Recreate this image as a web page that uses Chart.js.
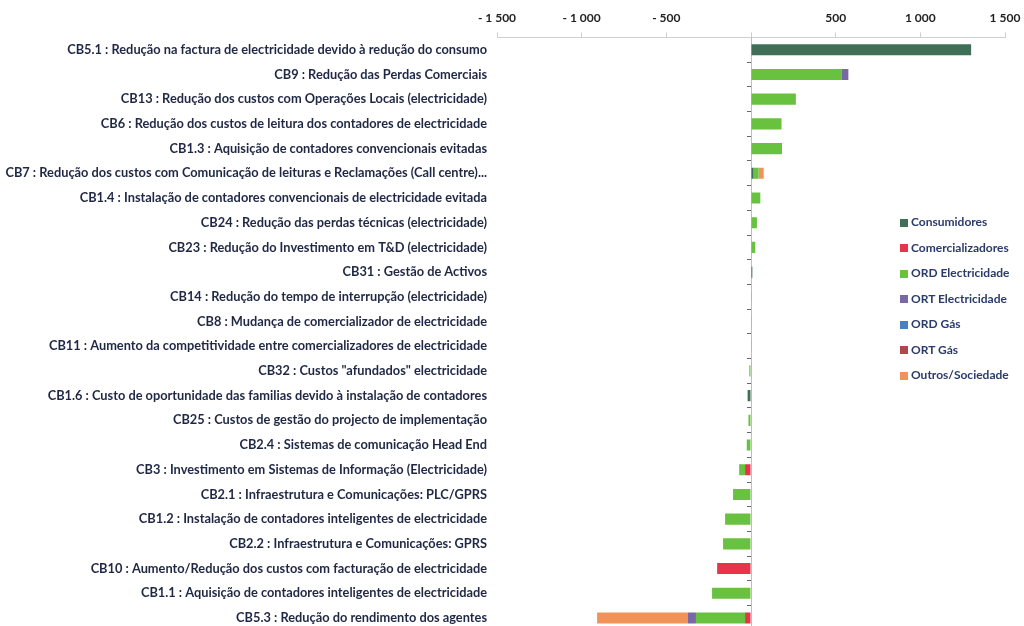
<!DOCTYPE html>
<html>
<head>
<meta charset="utf-8">
<script src="https://cdn.jsdelivr.net/npm/chart.js@4"></script>
<style>
  html, body { margin: 0; padding: 0; background: #fff; overflow: hidden; }
  #wrap { position: relative; width: 1024px; height: 626px; overflow: hidden; }
  #legend { position: absolute; left: 900px; top: 209px; font: 700 12px Lato, sans-serif; color: #2a3a6a; }
  #legend div { height: 25.5px; line-height: 25.5px; white-space: nowrap; }
  #legend span { display: inline-block; width: 8px; height: 8px; margin-right: 3px; vertical-align: -0.5px; }
</style>
</head>
<body>
<div id="wrap">
  <canvas id="chart" width="1024" height="648"></canvas>
  <div id="legend"></div>
</div>
<script>
// categories, top to bottom
const categories = [
  "CB5.1 : Redução na factura de electricidade devido à redução do consumo",
  "CB9 : Redução das Perdas Comerciais",
  "CB13 : Redução dos custos com Operações Locais (electricidade)",
  "CB6 : Redução dos custos de leitura dos contadores de electricidade",
  "CB1.3 : Aquisição de contadores convencionais evitadas",
  "CB7 : Redução dos custos com Comunicação de leituras e Reclamações (Call centre)...",
  "CB1.4 : Instalação de contadores convencionais de electricidade evitada",
  "CB24 : Redução das perdas técnicas (electricidade)",
  "CB23 : Redução do Investimento em T&D (electricidade)",
  "CB31 : Gestão de Activos",
  "CB14 : Redução do tempo de interrupção (electricidade)",
  "CB8 : Mudança de comercializador de electricidade",
  "CB11 : Aumento da competitividade entre comercializadores de electricidade",
  "CB32 : Custos \"afundados\" electricidade",
  "CB1.6 : Custo de oportunidade das familias devido à instalação de contadores",
  "CB25 : Custos de gestão do projecto de implementação",
  "CB2.4 : Sistemas de comunicação Head End",
  "CB3 : Investimento em Sistemas de Informação (Electricidade)",
  "CB2.1 : Infraestrutura e Comunicações: PLC/GPRS",
  "CB1.2 : Instalação de contadores inteligentes de electricidade",
  "CB2.2 : Infraestrutura e Comunicações: GPRS",
  "CB10 : Aumento/Redução dos custos com facturação de electricidade",
  "CB1.1 : Aquisição de contadores inteligentes de electricidade",
  "CB5.3 : Redução do rendimento dos agentes"
];

const seriesNames = ["Consumidores", "Comercializadores", "ORD Electricidade", "ORT Electricidade", "ORD Gás", "ORT Gás", "Outros/Sociedade"];
const seriesColors = ["#3f6f57", "#e8344b", "#69c140", "#7a68a6", "#4a7fc0", "#b4434f", "#f0935a"];

const consumidores     = [1300, 0, 0, 0, 0, 15, 0, 0, 0, 8, 0, 0, 0, 0, -20, 0, 0, 0, 0, 0, 0, 0, 0, 0];
const comercializadores = [0, 0, 0, 0, 0, 0, 0, 0, 0, 0, 0, 0, 0, 0, 0, 0, 0, -35, 0, 0, 0, -200, 0, -35];
const ordElectricidade = [0, 537, 265, 180, 183, 30, 55, 35, 25, 0, 4, 2, 2, -10, 0, -15, -25, -35, -106, -153, -165, 0, -230, -290];
const ortElectricidade = [0, 38, 0, 0, 0, 0, 0, 0, 0, 0, 0, 0, 0, 0, 0, 0, 0, 0, 0, 0, 0, 0, 0, -47];
const ordGas           = [0, 0, 0, 0, 0, 0, 0, 0, 0, 0, 0, 0, 0, 0, 0, 0, 0, 0, 0, 0, 0, 0, 0, 0];
const ortGas           = [0, 0, 0, 0, 0, 0, 0, 0, 0, 0, 0, 0, 0, 0, 0, 0, 0, 0, 0, 0, 0, 0, 0, 0];
const outrosSociedade  = [0, 0, 0, 0, 0, 30, 0, 0, 0, 0, 0, 0, 0, 0, 0, 0, 0, 0, 0, 0, 0, 0, 0, -537];

const xTicks = [-1500, -1000, -500, 0, 500, 1000, 1500];

const seriesValues = [consumidores, comercializadores, ordElectricidade, ortElectricidade, ordGas, ortGas, outrosSociedade];

function fmt(v) {
  if (v === 0) return "";
  const s = Math.abs(v).toString().replace(/\B(?=(\d{3})+(?!\d))/g, " ");
  return v < 0 ? "- " + s : s;
}

const labelFont = { family: "Lato", size: 12.8, weight: "700" };

new Chart(document.getElementById("chart"), {
  type: "bar",
  data: {
    labels: categories,
    datasets: seriesNames.map((name, i) => ({
      label: name,
      data: seriesValues[i],
      backgroundColor: seriesColors[i],
      borderWidth: 0,
      barPercentage: 0.45,
      categoryPercentage: 1
    }))
  },
  options: {
    indexAxis: "y",
    responsive: false,
    animation: false,
    layout: { padding: { top: 4, right: 19, bottom: 0, left: 0 } },
    plugins: { legend: { display: false }, tooltip: { enabled: false } },
    scales: {
      x: {
        position: "top",
        stacked: true,
        min: -1500,
        max: 1500,
        afterBuildTicks: (axis) => { axis.ticks = xTicks.map(v => ({ value: v })); },
        afterFit: (axis) => { axis.paddingRight = 0; axis.paddingLeft = 0; },
        ticks: { callback: (v) => fmt(v), color: "#1f1f1f", font: { family: "Lato", size: 12, weight: "700" }, padding: 7 },
        grid: { drawOnChartArea: false, tickLength: 5, color: "#cfcfcf" },
        border: { color: "#cfcfcf" }
      },
      y: {
        stacked: true,
        afterFit: (axis) => { axis.width = 497; },
        ticks: { color: "#1f2744", font: labelFont, padding: 10, autoSkip: false },
        grid: { display: false, drawTicks: false },
        border: { display: false }
      },
      y2: {
        type: "category",
        axis: "y",
        position: { x: 0 },
        offset: true,
        ticks: { display: false },
        grid: { drawOnChartArea: false, tickLength: 4, color: "#666" },
        border: { color: "#bdbdbd" }
      }
    }
  }
});

const legend = document.getElementById("legend");
seriesNames.forEach((name, i) => {
  const row = document.createElement("div");
  const sw = document.createElement("span");
  sw.style.background = seriesColors[i];
  row.appendChild(sw);
  row.appendChild(document.createTextNode(name));
  legend.appendChild(row);
});
</script>
</body>
</html>
